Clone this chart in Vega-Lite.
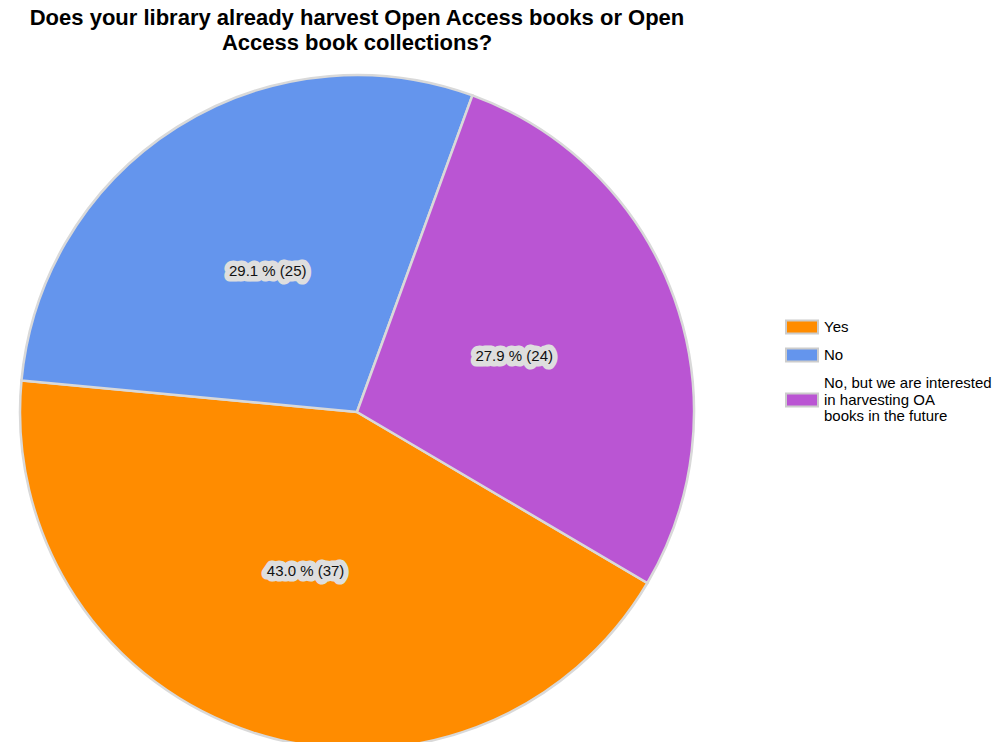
{
  "$schema": "https://vega.github.io/schema/vega-lite/v6.json",
  "width": 690,
  "height": 674,
  "autosize": "none",
  "padding": {"left": 12, "top": 75, "right": 296, "bottom": 0},
  "background": "white",
  "title": {
    "text": ["Does your library already harvest Open Access books or Open", "Access book collections?"],
    "font": "Liberation Sans",
    "fontSize": 22,
    "fontWeight": "bold",
    "color": "black",
    "anchor": "middle",
    "lineHeight": 25,
    "offset": 15
  },
  "config": {
    "view": {"stroke": null},
    "style": {"guide-label": {"lineHeight": 16.5}}
  },
  "data": {
    "values": [
      {"answer": "Yes", "count": 37, "order": 1, "label": "43.0 % (37)"},
      {"answer": "No", "count": 25, "order": 2, "label": "29.1 % (25)"},
      {"answer": "No, but we are interested in harvesting OA books in the future", "count": 24, "order": 3, "label": "27.9 % (24)"}
    ]
  },
  "encoding": {
    "theta": {"field": "count", "type": "quantitative", "stack": true, "scale": {"range": [2.103, 8.3862]}},
    "order": {"field": "order", "type": "quantitative"}
  },
  "layer": [
    {
      "mark": {"type": "arc", "radius": 337, "stroke": "#d9d9d9", "strokeWidth": 2.5},
      "encoding": {
        "color": {
          "field": "answer",
          "type": "nominal",
          "scale": {
            "domain": ["Yes", "No", "No, but we are interested in harvesting OA books in the future"],
            "range": ["#FF8C00", "#6495ED", "#BA55D3"]
          },
          "legend": {
            "title": null,
            "orient": "none",
            "legendX": 773,
            "legendY": 235,
            "padding": 0,
            "symbolType": "M-1,-0.4H1V0.4H-1Z",
            "symbolSize": 1024,
            "symbolStrokeColor": "#cccccc",
            "symbolStrokeWidth": 2,
            "labelFont": "Liberation Sans",
            "labelFontSize": 15,
            "labelColor": "black",
            "labelLimit": 300,
            "labelOffset": 5,
            "rowPadding": 0,
            "labelExpr": "datum.label == 'No, but we are interested in harvesting OA books in the future' ? ['No, but we are interested', 'in harvesting OA', 'books in the future'] : datum.label",
            "encoding": {
              "symbols": {
                "y": {"value": {"expr": "datum.size * 0.5 + (datum.index == 2 ? 17 : 0)"}}
              }
            }
          }
        }
      }
    },
    {
      "mark": {"type": "text", "radius": 167, "font": "Liberation Sans", "fontSize": 15, "stroke": "#dedede", "strokeWidth": 11, "strokeJoin": "round", "fill": "#dedede"},
      "encoding": {"text": {"field": "label", "type": "nominal"}}
    },
    {
      "mark": {"type": "text", "radius": 167, "font": "Liberation Sans", "fontSize": 15, "fill": "#111111"},
      "encoding": {"text": {"field": "label", "type": "nominal"}}
    }
  ]
}
